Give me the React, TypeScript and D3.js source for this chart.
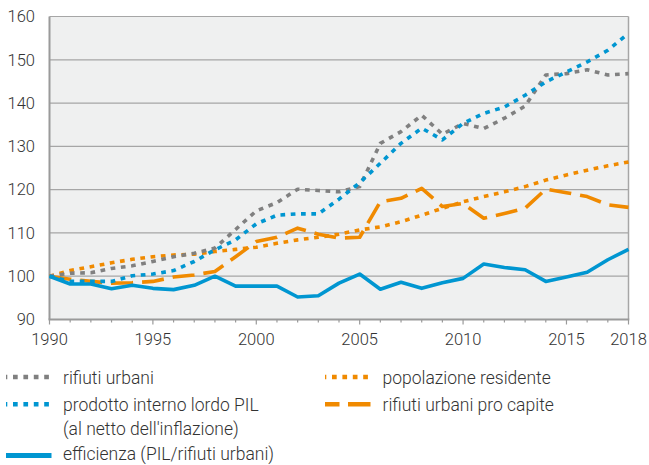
import React from "react";
import * as d3 from "d3";

const years: number[] = d3.range(1990, 2019);

const rifiutiUrbani = [100, 100.7, 100.8, 101.8, 102.4, 103.4, 104.5, 105.3, 106.5, 110.8, 115.1, 117, 120.1, 119.8, 119.5, 120.7, 130.7, 133.4, 137.2, 132.8, 135.3, 134.1, 136.5, 139.3, 146.5, 146.8, 147.7, 146.5, 146.8];
const pil = [100, 98.8, 98.8, 98.8, 100.1, 100.5, 101.3, 103.4, 106.1, 108.4, 112.1, 114.1, 114.4, 114.4, 117.8, 121.6, 126.1, 130.7, 134.2, 131.5, 135.3, 137.6, 139.1, 141.8, 144.9, 147.2, 149.5, 152.2, 156.1];
const popolazione = [100, 101.3, 102.2, 103.1, 103.9, 104.5, 104.9, 105.1, 105.7, 106.2, 106.7, 107.6, 108.4, 109.0, 109.7, 110.7, 111.4, 112.6, 114.1, 115.7, 117.2, 118.4, 119.5, 120.7, 122.2, 123.4, 124.5, 125.5, 126.4];
const proCapite = [100, 99.3, 98.8, 98.4, 98.5, 98.8, 99.8, 100.3, 101.1, 104.5, 108.0, 109.0, 111.1, 109.7, 108.8, 109.0, 117.2, 118.0, 120.3, 116.1, 116.8, 113.4, 114.5, 115.7, 120.1, 119.3, 118.4, 116.5, 115.9];
const efficienza = [100, 98.2, 98.2, 97.1, 97.9, 97.2, 96.9, 97.9, 100, 97.7, 97.7, 97.7, 95.2, 95.5, 98.4, 100.5, 97.0, 98.6, 97.2, 98.5, 99.5, 102.8, 102.0, 101.5, 98.8, 99.8, 100.9, 103.8, 106.2];

const yTicks = [90, 100, 110, 120, 130, 140, 150, 160];
const xTickLabels = [1990, 1995, 2000, 2005, 2010, 2015, 2018];

const GRAY = "#808080";
const BLUE = "#0096d1";
const ORANGE = "#f08a00";
const TEXT = "#333333";
const FONT = "Roboto, 'Noto Sans', sans-serif";

type Series = { name: string; values: number[]; color: string; dash: string | null };
const series: Series[] = [
  { name: "popolazione residente", values: popolazione, color: ORANGE, dash: "4.7 5.6" },
  { name: "rifiuti urbani pro capite", values: proCapite, color: ORANGE, dash: "22 9" },
  { name: "rifiuti urbani", values: rifiutiUrbani, color: GRAY, dash: "4.7 5.6" },
  { name: "prodotto interno lordo PIL", values: pil, color: BLUE, dash: "4.7 5.6" },
  { name: "efficienza (PIL/rifiuti urbani)", values: efficienza, color: BLUE, dash: null },
];

const legendLabels = [
  ["rifiuti urbani"],
  ["prodotto interno lordo PIL", "(al netto dell'inflazione)"],
  ["efficienza (PIL/rifiuti urbani)"],
  ["popolazione residente"],
  ["rifiuti urbani pro capite"],
];

export default function App() {
  const W = 649, H = 465;
  const x = d3.scaleLinear().domain([1990, 2018]).range([49.5, 628.5]);
  const y = d3.scaleLinear().domain([90, 160]).range([319.5, 16.5]);
  const line = (vals: number[]) =>
    d3.line<number>().x((_, i) => x(years[i])).y((d) => y(d))(vals) || "";

  const legend = [
    { lines: legendLabels[0], color: GRAY, dash: "4.7 5.7", off: 3.4, col: 0, row: 0, w: 4.5 },
    { lines: legendLabels[1], color: BLUE, dash: "4.7 5.7", off: 3.4, col: 0, row: 1, w: 4.5 },
    { lines: legendLabels[2], color: BLUE, dash: null, off: 0, col: 0, row: 3, w: 5 },
    { lines: legendLabels[3], color: ORANGE, dash: "4.7 5.7", off: 3.4, col: 1, row: 0, w: 4.5 },
    { lines: legendLabels[4], color: ORANGE, dash: "14.5 8.5 22 0", off: 0, col: 1, row: 1, w: 4.5 },
  ];
  const rowBase = [383.8, 410.5, 435, 459.5];
  const symOff = [6.8, 6.3, 6.3, 4];
  const colSym = [6, 325];
  const colText = [63, 382.5];

  return (
    <svg width={W} height={H} style={{ position: "absolute", left: 0, top: 0, background: "#fff" }} fontFamily={FONT}>
      <rect x={x(1990)} y={y(160)} width={x(2018) - x(1990)} height={y(90) - y(160)} fill="#eff0f0" />
      {yTicks.map((t) => (
        <line key={t} x1={x(1990)} x2={x(2018)} y1={y(t)} y2={y(t)} stroke="#a6a6a6" strokeWidth={1.2} />
      ))}
      <line x1={x(2018)} x2={x(2018)} y1={y(160)} y2={y(90)} stroke="#a6a6a6" strokeWidth={1.5} />
      <line x1={x(1990)} x2={x(1990)} y1={y(160)} y2={y(90)} stroke="#9a9a9a" strokeWidth={2} />
      <line x1={x(1990) - 1} x2={x(2018) + 0.75} y1={y(90)} y2={y(90)} stroke="#9a9a9a" strokeWidth={2} />
      {years.map((yr) => (
        <line key={yr} x1={x(yr)} x2={x(yr)} y1={y(90)} y2={y(90) + (yr % 5 === 0 || yr === 2018 ? 5 : 3)} stroke="#9a9a9a" strokeWidth={1.2} />
      ))}
      {yTicks.map((t) => (
        <text key={t} x={35} y={y(t) + 5.8} textAnchor="end" fontSize={16.5} fontWeight={300} fill={TEXT}>{t}</text>
      ))}
      {xTickLabels.map((t) => (
        <text key={t} x={x(t)} y={344.5} textAnchor="middle" fontSize={16.5} fontWeight={300} fill={TEXT}>{t}</text>
      ))}
      {series.map((s) => (
        <path key={s.name} d={line(s.values)} fill="none" stroke={s.color} strokeWidth={3.6}
          strokeDasharray={s.dash || undefined} strokeLinejoin="round" />
      ))}
      {legend.map((l) => {
        const base = rowBase[l.row];
        const sy = base - symOff[l.row];
        return (
          <g key={l.lines[0]}>
            <line x1={colSym[l.col]} x2={colSym[l.col] + 45.5} y1={sy} y2={sy} stroke={l.color} strokeWidth={l.w}
              strokeDasharray={l.dash || undefined} strokeDashoffset={l.off} />
            {l.lines.map((t, i) => (
              <text key={t} x={colText[l.col]} y={rowBase[l.row + i]} fontSize={17.5} fontWeight={300} fill={TEXT}>{t}</text>
            ))}
          </g>
        );
      })}
    </svg>
  );
}
